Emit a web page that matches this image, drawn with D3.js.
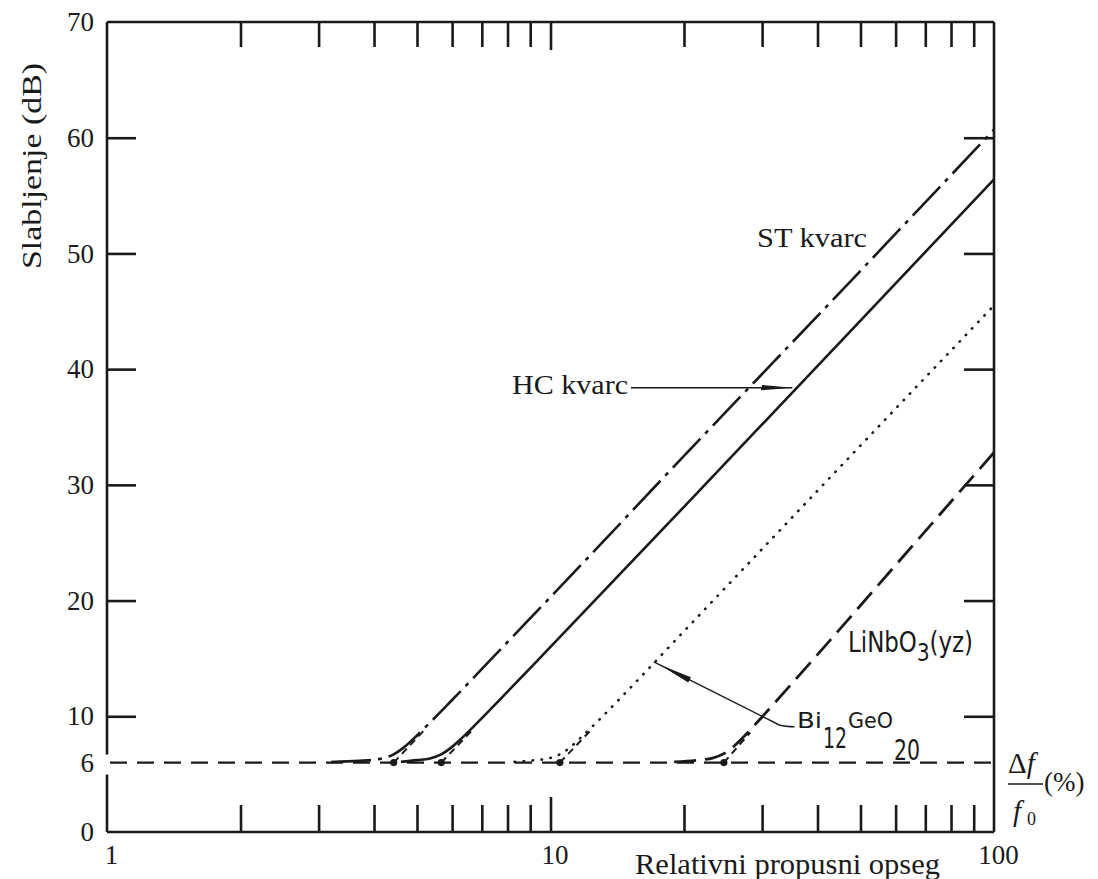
<!DOCTYPE html>
<html>
<head>
<meta charset="utf-8">
<script src="https://cdn.jsdelivr.net/npm/d3@7"></script>
<style>
  html, body { margin: 0; padding: 0; background: #fff; }
  svg { display: block; }
</style>
</head>
<body>
<svg id="chart" width="1098" height="879"></svg>
<script>
// ---------------- DATA ----------------
const xTickLabels = [1, 10, 100];
const yTickLabels = [0, 10, 20, 30, 40, 50, 60, 70];
const yRefLevel = 6;            // 6 dB reference (dashed)
const yTickMarks = [10, 20, 30, 40, 50, 60];

// curves: [relative bandwidth %, attenuation dB]
const stKvarc = [[3.2,6.05],[3.7,6.15],[4.0,6.24],[4.2,6.38],[4.43,6.71],[4.65,7.25],[4.9,8.02],[5.3,9.3],[6,11.41],[8,16.42],[10,20.3],[20,32.5],[50,48.5],[100,60.7]];
const hcKvarc = [[4.6,6.06],[5.0,6.21],[5.35,6.36],[5.67,6.71],[5.95,7.25],[6.27,8.02],[6.8,9.34],[7.7,11.46],[10,16.0],[20,28.1],[50,44.2],[100,56.4]];
const biGeO   = [[8.3,6.06],[9.2,6.2],[9.9,6.36],[10.5,6.71],[11.0,7.22],[11.6,8.02],[12.6,9.34],[14.3,11.48],[20,17.35],[50,33.4],[100,45.5]];
const liNbO3  = [[19,6.06],[21.5,6.21],[23.2,6.39],[24.6,6.77],[25.8,7.35],[27.2,8.19],[29.6,9.7],[33.5,12.0],[40,15.33],[55,21.4],[100,32.8]];

// asymptote extensions from 6 dB intercept
const stExt = [[4.43,6],[5.25,9.0]];
const hcExt = [[5.67,6],[6.7,8.9]];
const biExt = [[10.5,6],[12.4,8.9]];
const liExt = [[24.6,6],[28.2,8.6]];
const intercepts = [4.43, 5.67, 10.5, 24.6];

// ---------------- LAYOUT ----------------
const svg = d3.select("#chart");
const L = 107, R = 994, T = 22, B = 832;
const x = d3.scaleLog().domain([1, 100]).range([L, R]);
const y = d3.scaleLinear().domain([0, 70]).range([B, T]);
const ink = "#1a1a1a";
const serif = "Liberation Serif, Times New Roman, serif";
const sans = "Liberation Sans Narrow, DejaVu Sans Condensed, Liberation Sans, sans-serif";

// Frame
const frame = svg.append("g").attr("stroke", ink).attr("stroke-width", 2.6).attr("fill", "none");
frame.append("line").attr("x1", L).attr("x2", R).attr("y1", T).attr("y2", T);
frame.append("line").attr("x1", L).attr("x2", R).attr("y1", B).attr("y2", B);
frame.append("line").attr("x1", R).attr("x2", R).attr("y1", T).attr("y2", B);
frame.append("line").attr("x1", L).attr("x2", L).attr("y1", T).attr("y2", y(yRefLevel) - 8);
frame.append("line").attr("x1", L).attr("x2", L).attr("y1", y(yRefLevel) + 12).attr("y2", B);

// X tick marks (inward) via axes
const minorX = x.ticks().filter(v => v !== 1 && v !== 100 && v !== 10);
function styleAxis(g) {
  g.select(".domain").remove();
  g.selectAll(".tick line").attr("stroke", ink).attr("stroke-width", 2.6);
  g.selectAll(".tick text").remove();
}
svg.append("g").attr("transform", `translate(0,${B})`)
  .call(d3.axisBottom(x).tickValues(minorX).tickSize(-27).tickFormat("")).call(styleAxis);
svg.append("g").attr("transform", `translate(0,${B})`)
  .call(d3.axisBottom(x).tickValues([10]).tickSize(-35).tickFormat("")).call(styleAxis);
svg.append("g").attr("transform", `translate(0,${T})`)
  .call(d3.axisTop(x).tickValues(minorX).tickSize(-25).tickFormat("")).call(styleAxis);
svg.append("g").attr("transform", `translate(0,${T})`)
  .call(d3.axisTop(x).tickValues([10]).tickSize(-28).tickFormat("")).call(styleAxis);

// Y tick marks (inward)
svg.append("g").attr("transform", `translate(${L},0)`)
  .call(d3.axisLeft(y).tickValues(yTickMarks).tickSize(-29).tickFormat("")).call(styleAxis);
svg.append("g").attr("transform", `translate(${R},0)`)
  .call(d3.axisRight(y).tickValues(yTickMarks).tickSize(-30).tickFormat("")).call(styleAxis);

// X tick labels
const xl = svg.append("g").attr("transform", `translate(4,${B})`)
  .call(d3.axisBottom(x).tickValues(xTickLabels).tickSize(0).tickPadding(13).tickFormat(d3.format("d")));
xl.select(".domain").remove();
xl.attr("font-family", serif).attr("font-size", 27);
xl.selectAll("text").attr("font-family", serif).attr("font-size", 27).attr("fill", ink);

// Y tick labels
const yl = svg.append("g").attr("transform", `translate(${L - 13},0)`)
  .call(d3.axisLeft(y).tickValues(yTickLabels.concat([yRefLevel])).tickSize(0).tickPadding(0).tickFormat(d3.format("d")));
yl.select(".domain").remove();
yl.attr("font-family", serif).attr("font-size", 27);
yl.selectAll("text").attr("font-family", serif).attr("font-size", 27).attr("fill", ink);

// 6 dB dashed reference line
svg.append("line")
  .attr("x1", x(1) + 3).attr("x2", R - 2)
  .attr("y1", y(yRefLevel)).attr("y2", y(yRefLevel))
  .attr("stroke", ink).attr("stroke-width", 2.2).attr("stroke-dasharray", "17,10");

// Curves
const line = d3.line().x(d => x(d[0])).y(d => y(d[1])).curve(d3.curveMonotoneX);
const straight = d3.line().x(d => x(d[0])).y(d => y(d[1]));
const curves = [
  { data: stKvarc, dash: "40,7,4,7", w: 2.6, cap: "butt" },
  { data: hcKvarc, dash: null, w: 2.6, cap: "butt" },
  { data: biGeO, dash: "0.5,8.5", w: 2.6, cap: "round" },
  { data: liNbO3, dash: "22,9", w: 2.8, cap: "butt" }
];
curves.forEach(c => {
  svg.append("path").attr("d", line(c.data)).attr("fill", "none")
    .attr("stroke", ink).attr("stroke-width", c.w)
    .attr("stroke-linecap", c.cap)
    .attr("stroke-dasharray", c.dash);
});
[stExt, hcExt, biExt, liExt].forEach(e => {
  svg.append("path").attr("d", straight(e)).attr("fill", "none")
    .attr("stroke", ink).attr("stroke-width", 2).attr("stroke-dasharray", "7,5");
});
svg.selectAll("circle.ic").data(intercepts).join("circle").attr("class", "ic")
  .attr("cx", d => x(d)).attr("cy", y(yRefLevel)).attr("r", 3.6).attr("fill", ink);

// Labels
svg.append("text").attr("x", 757).attr("y", 247)
  .attr("font-family", serif).attr("font-size", 27).attr("fill", ink)
  .attr("textLength", 110).attr("lengthAdjust", "spacingAndGlyphs")
  .text("ST kvarc");

svg.append("text").attr("x", 512).attr("y", 394)
  .attr("font-family", serif).attr("font-size", 27).attr("fill", ink)
  .attr("textLength", 116).attr("lengthAdjust", "spacingAndGlyphs")
  .text("HC kvarc");
// HC leader + arrow
const hcY = 38.4;
svg.append("line").attr("x1", 631).attr("x2", x(35.1)).attr("y1", y(hcY)).attr("y2", y(hcY))
  .attr("stroke", ink).attr("stroke-width", 1.5);
svg.append("path")
  .attr("d", `M${x(35.1)},${y(hcY)} L${x(30.0)},${y(hcY) - 2.6} L${x(29.8)},${y(hcY) + 2.6} Z`)
  .attr("fill", ink);

// Bi12GeO20 leader + arrow
const bx0 = x(17.1), by0 = y(14.7), bx1 = x(32.8), by1 = y(9.25), bx2 = x(35.5), by2 = y(9.1);
svg.append("path")
  .attr("d", `M${bx0},${by0} L${bx1},${by1} Q${bx1 + 6},${by2} ${bx2},${by2}`)
  .attr("fill", "none").attr("stroke", ink).attr("stroke-width", 1.5);
{
  const ang = Math.atan2(by1 - by0, bx1 - bx0);
  const len = 34, hw = 3;
  const tx = bx0 + Math.cos(ang) * 6, ty = by0 + Math.sin(ang) * 6;
  const bx = tx + Math.cos(ang) * len, byy = ty + Math.sin(ang) * len;
  const nx = -Math.sin(ang) * hw, ny = Math.cos(ang) * hw;
  svg.append("path").attr("d", `M${tx},${ty} L${bx + nx},${byy + ny} L${bx - nx},${byy - ny} Z`).attr("fill", ink);
}

function chem(txt, xx, yy, len, fs) {
  svg.append("text").attr("x", xx).attr("y", yy)
    .attr("font-family", sans).attr("font-size", fs).attr("fill", ink)
    .attr("textLength", len).attr("lengthAdjust", "spacingAndGlyphs").text(txt);
}
chem("Bi", 797, 728, 25, 22);
chem("12", 823, 748, 24, 28);
chem("GeO", 848, 728, 45, 22);
chem("20", 894, 760, 26, 28);

// LiNbO3(yz) as one text element with a lowered "3"
{
  const t = svg.append("text").attr("x", 848).attr("y", 652)
    .attr("font-family", sans).attr("font-size", 29).attr("fill", ink)
    .attr("textLength", 125).attr("lengthAdjust", "spacingAndGlyphs");
  t.append("tspan").text("LiNbO");
  t.append("tspan").attr("dy", 9).attr("font-size", 25).text("3");
  t.append("tspan").attr("dy", -9).text("(yz)");
}

// Axis titles
svg.append("text")
  .attr("transform", `translate(41,166) rotate(-90)`)
  .attr("text-anchor", "middle")
  .attr("font-family", serif).attr("font-size", 28).attr("fill", ink)
  .attr("textLength", 206).attr("lengthAdjust", "spacingAndGlyphs")
  .text("Slabljenje (dB)");

svg.append("text").attr("x", 635).attr("y", 874)
  .attr("font-family", serif).attr("font-size", 30).attr("fill", ink)
  .attr("textLength", 305).attr("lengthAdjust", "spacingAndGlyphs")
  .text("Relativni propusni opseg");

// Right label  Δf / f0 (%)
svg.append("text").attr("x", 1008).attr("y", 773)
  .attr("font-family", serif).attr("font-size", 29).attr("fill", ink)
  .html('Δ<tspan font-style="italic">f</tspan>');
svg.append("line").attr("x1", 1008).attr("x2", 1043).attr("y1", 784).attr("y2", 784)
  .attr("stroke", ink).attr("stroke-width", 1.6);
svg.append("text").attr("x", 1013).attr("y", 821)
  .attr("font-family", serif).attr("font-size", 29).attr("font-style", "italic").attr("fill", ink)
  .text("f");
svg.append("text").attr("x", 1027).attr("y", 825)
  .attr("font-family", serif).attr("font-size", 18).attr("fill", ink)
  .text("0");
svg.append("text").attr("x", 1044).attr("y", 791)
  .attr("font-family", serif).attr("font-size", 27).attr("fill", ink)
  .text("(%)");
</script>
</body>
</html>
